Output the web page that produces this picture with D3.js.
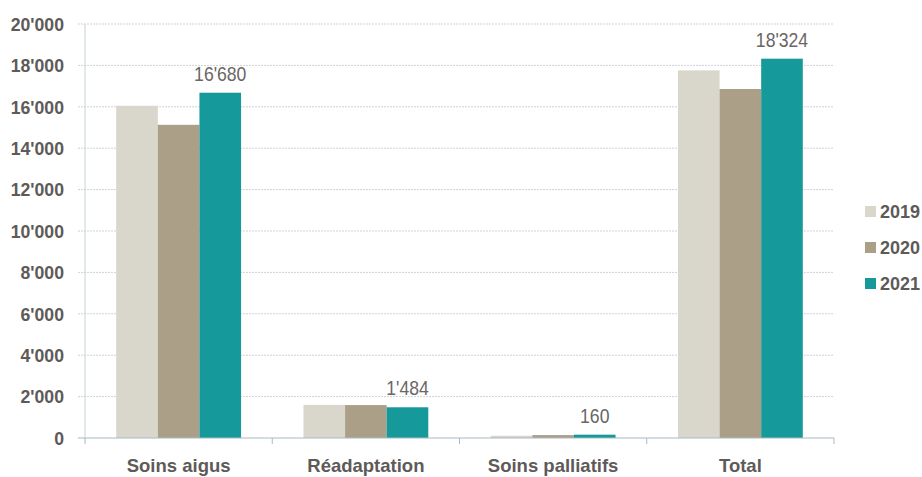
<!DOCTYPE html>
<html><head><meta charset="utf-8">
<script src="https://cdn.jsdelivr.net/npm/d3@7"></script>
<style>
body{margin:0;background:#fff;}
svg{display:block;}
</style></head>
<body>
<svg id="chart" width="922" height="477"></svg>
<script>
const categories = ["Soins aigus", "Réadaptation", "Soins palliatifs", "Total"];
const years = ["2019", "2020", "2021"];
const values2019 = [16050, 1600, 110, 17760];
const values2020 = [15130, 1590, 140, 16860];
const values2021 = [16680, 1484, 160, 18324];
const yTicks = [0, 2000, 4000, 6000, 8000, 10000, 12000, 14000, 16000, 18000, 20000];
const colors = ["#d9d6cb", "#ab9f88", "#15999a"];

const series = [values2019, values2020, values2021];
const fmt = v => d3.format(",")(v).replace(/,/g, "'");
const font = "'Liberation Sans',Arial,sans-serif";

const svg = d3.select("#chart");
const m = {left: 85, right: 834, top: 24, bottom: 438};

const x = d3.scaleBand().domain(categories).range([m.left, m.right]).paddingInner(0).paddingOuter(0);
const xi = d3.scaleBand().domain(years).range([0, x.bandwidth()]).paddingInner(0).paddingOuter(0.75);
const y = d3.scaleLinear().domain([0, 20000]).range([m.bottom, m.top]);

// gridlines
svg.append("g").selectAll("line").data(yTicks.filter(d => d > 0)).join("line")
  .attr("x1", m.left - 7).attr("x2", m.right)
  .attr("y1", d => y(d)).attr("y2", d => y(d))
  .attr("stroke", "#cdd3d6").attr("stroke-width", 1).attr("stroke-dasharray", "2,1");

// y axis line
svg.append("line").attr("x1", m.left).attr("x2", m.left).attr("y1", m.top).attr("y2", m.bottom)
  .attr("stroke", "#c3d3d8").attr("stroke-width", 1);

// y tick labels
svg.append("g").selectAll("text").data(yTicks).join("text")
  .attr("transform", d => `translate(64,${y(d)}) scale(0.93,1)`)
  .attr("dy", "0.36em")
  .attr("text-anchor", "end")
  .style("font-family", font).style("font-size", "19px").style("font-weight", "bold")
  .attr("fill", "#5e5a58")
  .text(fmt);

// bars
const groups = svg.append("g").selectAll("g").data(categories).join("g")
  .attr("transform", d => `translate(${x(d)},0)`);
groups.selectAll("rect").data((c, i) => years.map((yr, j) => ({yr, j, v: series[j][i]}))).join("rect")
  .attr("x", d => xi(d.yr)).attr("width", xi.bandwidth())
  .attr("y", d => y(d.v)).attr("height", d => y(0) - y(d.v))
  .attr("fill", d => colors[d.j]);

// value labels on 2021
groups.append("text")
  .attr("transform", (c, i) => `translate(${xi("2021") + xi.bandwidth() / 2},${y(values2021[i]) - 12}) scale(0.88,1)`)
  .attr("text-anchor", "middle")
  .style("font-family", font).style("font-size", "20px")
  .attr("fill", "#6a6664")
  .text((c, i) => fmt(values2021[i]));

// x axis line
svg.append("line").attr("x1", m.left - 7).attr("x2", m.right).attr("y1", y(0)).attr("y2", y(0))
  .attr("stroke", "#a8bcc3").attr("stroke-width", 1.2);
// x ticks at boundaries
const bounds = categories.map(c => x(c)).concat([m.right]);
svg.append("g").selectAll("line").data(bounds).join("line")
  .attr("x1", d => d).attr("x2", d => d).attr("y1", y(0)).attr("y2", y(0) + 6)
  .attr("stroke", "#a8bcc3").attr("stroke-width", 1);

// x labels
svg.append("g").selectAll("text").data(categories).join("text")
  .attr("x", d => x(d) + x.bandwidth() / 2).attr("y", 472)
  .attr("text-anchor", "middle")
  .style("font-family", font).style("font-size", "18.5px").style("font-weight", "bold")
  .attr("fill", "#5e5a58")
  .text(d => d);

// legend
const leg = svg.append("g").selectAll("g").data(years).join("g")
  .attr("transform", (d, i) => `translate(865,${212 + i * 36})`);
leg.append("rect").attr("x", 0).attr("y", -6).attr("width", 11).attr("height", 11)
  .attr("fill", (d, i) => colors[i]);
leg.append("text").attr("x", 15).attr("y", 0).attr("dy", "0.36em")
  .style("font-family", font).style("font-size", "18px").style("font-weight", "bold")
  .attr("fill", "#5e5a58")
  .text(d => d);
</script>
</body></html>
